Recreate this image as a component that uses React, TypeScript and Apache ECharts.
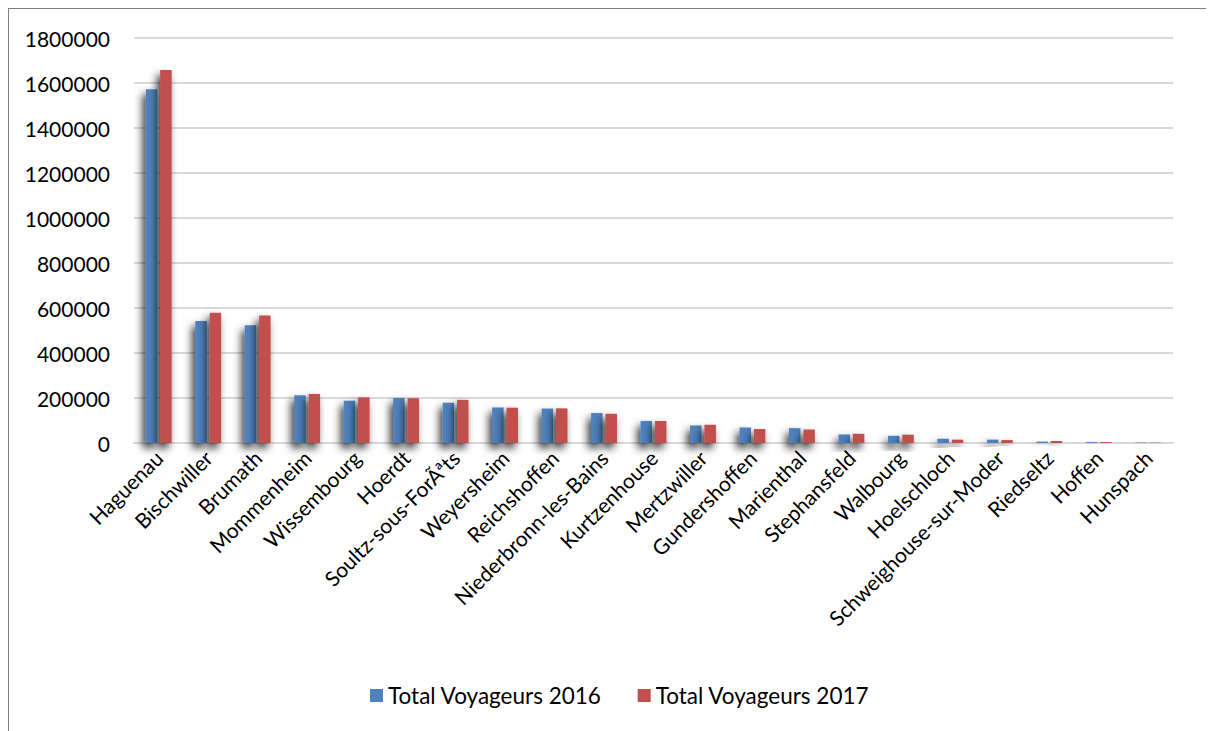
import React, { useEffect, useRef } from "react";
import * as echarts from "echarts";

const categories = [
  "Haguenau", "Bischwiller", "Brumath", "Mommenheim", "Wissembourg", "Hoerdt",
  "Soultz-sous-ForÃªts", "Weyersheim", "Reichshoffen", "Niederbronn-les-Bains",
  "Kurtzenhouse", "Mertzwiller", "Gundershoffen", "Marienthal", "Stephansfeld",
  "Walbourg", "Hoelschloch", "Schweighouse-sur-Moder", "Riedseltz", "Hoffen", "Hunspach",
];
const voyageurs2016 = [
  1572000, 542000, 523000, 212000, 188000, 200000, 179000, 158000, 153000, 133000,
  98000, 78000, 69000, 66000, 38000, 32000, 19000, 15000, 6000, 4000, 2000,
];
const voyageurs2017 = [
  1658000, 579000, 567000, 218000, 203000, 199000, 192000, 157000, 154000, 130000,
  98000, 81000, 62000, 60000, 41000, 37000, 15000, 13000, 9000, 4000, 1500,
];
const seriesNames = ["Total Voyageurs 2016", "Total Voyageurs 2017"];
const yTicks = { min: 0, max: 1800000, interval: 200000 };

const FONT = "Lato";
const FS = 21;
const LEGEND_FS = 22.5;

export default function App() {
  const ref = useRef<HTMLDivElement>(null);
  useEffect(() => {
    if (!ref.current) return;
    const chart = echarts.init(ref.current, null, { renderer: "svg" });
    const shadow = {
      shadowBlur: 8,
      shadowColor: "rgba(0,0,0,0.8)",
      shadowOffsetX: -3,
      shadowOffsetY: 5,
    };
    chart.setOption({
      animation: false,
      backgroundColor: "#ffffff",
      textStyle: { fontFamily: FONT },
      grid: { left: 125, right: 41, top: 29, bottom: 288, containLabel: false },
      legend: {
        left: 356,
        top: 670,
        itemWidth: 13,
        itemHeight: 13,
        itemGap: 36,
        icon: "rect",
        textStyle: { fontSize: LEGEND_FS, color: "#000", fontFamily: FONT },
        data: seriesNames,
      },
      xAxis: {
        type: "category",
        data: categories,
        axisLine: { show: true, lineStyle: { color: "#d9d9d9", width: 2 } },
        axisTick: { show: false },
        axisLabel: {
          rotate: 45,
          interval: 0,
          margin: 11,
          fontSize: FS,
          color: "#000",
          fontFamily: FONT,
        },
      },
      yAxis: {
        type: "value",
        min: yTicks.min,
        max: yTicks.max,
        interval: yTicks.interval,
        axisLine: { show: false },
        axisTick: { show: false },
        axisLabel: {
          fontSize: FS,
          color: "#000",
          margin: 24,
          fontFamily: FONT,
          formatter: (v: number) => String(v),
        },
        splitLine: { lineStyle: { color: "#d9d9d9", width: 2 } },
      },
      series: [
        {
          name: seriesNames[0],
          type: "bar",
          data: voyageurs2016,
          barWidth: 11.5,
          barGap: "25%",
          itemStyle: { color: "#4F81BD", ...shadow },
        },
        {
          name: seriesNames[1],
          type: "bar",
          data: voyageurs2017,
          barWidth: 11.5,
          barGap: "25%",
          itemStyle: { color: "#C0504D", ...shadow },
        },
      ],
    });
    return () => chart.dispose();
  }, []);
  return (
    <div
      style={{
        position: "relative",
        width: 1230,
        height: 740,
        border: "1px solid #7f7f7f",
        boxSizing: "border-box",
        background: "#fff",
      }}
    >
      <div ref={ref} style={{ position: "absolute", left: 0, top: 0, width: 1205, height: 722 }} />
    </div>
  );
}
